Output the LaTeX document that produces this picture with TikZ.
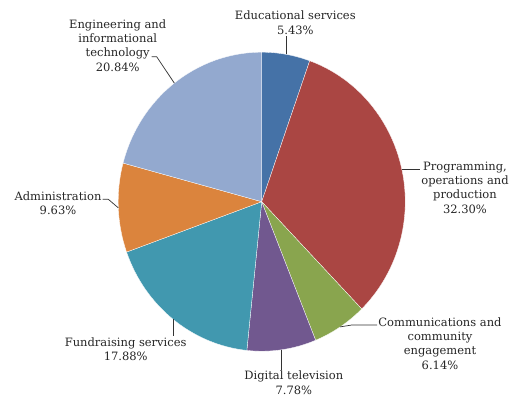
\documentclass[tikz,border=0pt]{standalone}
\usepackage{fontspec}
\setmainfont{DejaVu Serif}
\usepackage{tikz}
\usetikzlibrary{calc}
\definecolor{edublue}{HTML}{4572A7}
\definecolor{progred}{HTML}{AA4643}
\definecolor{commgreen}{HTML}{89A54E}
\definecolor{dtvpurple}{HTML}{71588F}
\definecolor{fundteal}{HTML}{4198AF}
\definecolor{admorange}{HTML}{DB843D}
\definecolor{engblue}{HTML}{93A9CF}
\newcommand{\pieslice}[3]{\filldraw[fill=#3, draw=white, line width=0.3pt] (ctr) -- ++(#1:143.5pt and 149.5pt) arc[start angle=#1, end angle=#2, x radius=143.5pt, y radius=149.5pt] -- cycle;}
\tikzset{lbl/.style={align=center, inner sep=1pt, text=black!85, font=\fontsize{11.5}{14.3}\selectfont},
  leader/.style={draw=black!80, line width=0.7pt}}

\begin{document}
\begin{tikzpicture}[x=1pt, y=1pt]
\useasboundingbox (0,0) rectangle (513,396);
\coordinate (ctr) at (261.7,194.3);

\pieslice{90}{70.452}{edublue}
\pieslice{70.452}{-45.828}{progred}
\pieslice{-45.828}{-67.932}{commgreen}
\pieslice{-67.932}{-95.94}{dtvpurple}
\pieslice{-95.94}{-160.308}{fundteal}
\pieslice{-160.308}{-194.976}{admorange}
\pieslice{-194.976}{-270}{engblue}

\coordinate (eduedge) at ($(ctr)+(80.226:143.5pt and 149.5pt)$);
\coordinate (progedge) at ($(ctr)+(12.312:143.5pt and 149.5pt)$);
\coordinate (commedge) at ($(ctr)+(-56.88:143.5pt and 149.5pt)$);
\coordinate (dtvedge) at ($(ctr)+(-81.936:143.5pt and 149.5pt)$);
\coordinate (fundedge) at ($(ctr)+(-128.124:143.5pt and 149.5pt)$);
\coordinate (admedge) at ($(ctr)+(-177.642:143.5pt and 149.5pt)$);
\coordinate (engedge) at ($(ctr)+(-232.488:143.5pt and 149.5pt)$);

\node[lbl] (edu) at (295.3,373.2) {Educational services\\5.43\%};
\node[lbl] (prog) at (465,208.5) {Programming,\\operations and\\production\\32.30\%};
\node[lbl] (comm) at (440,52.7) {Communications and\\community\\engagement\\6.14\%};
\node[lbl] (dtv) at (293.8,13.3) {Digital television\\7.78\%};
\node[lbl] (fund) at (125.7,46.8) {Fundraising services\\17.88\%};
\node[lbl] (adm) at (58,193.1) {Administration\\9.63\%};
\node[lbl] (eng) at (117.7,350.7) {Engineering and\\informational\\technology\\20.84\%};

\coordinate (commknee) at (351.7,71);
\coordinate (admknee) at (108.3,196.7);
\coordinate (engknee) at (156.7,339.3);
\coordinate (engend) at (151.7,339.3);

\draw[leader] (eduedge) -- (eduedge |- edu.south);
\draw[leader] (progedge) -- (progedge -| prog.west);
\draw[leader] (commedge) -- (commknee) -- (commknee -| comm.west);
\draw[leader] (dtvedge) -- (dtvedge |- dtv.north);
\draw[leader] (fundedge) -- (fundedge |- fund.north);
\draw[leader] (admedge) -- (admknee) -- (admknee -| adm.east);
\draw[leader] (engedge) -- (engknee) -- (engend);
\end{tikzpicture}
\end{document}
